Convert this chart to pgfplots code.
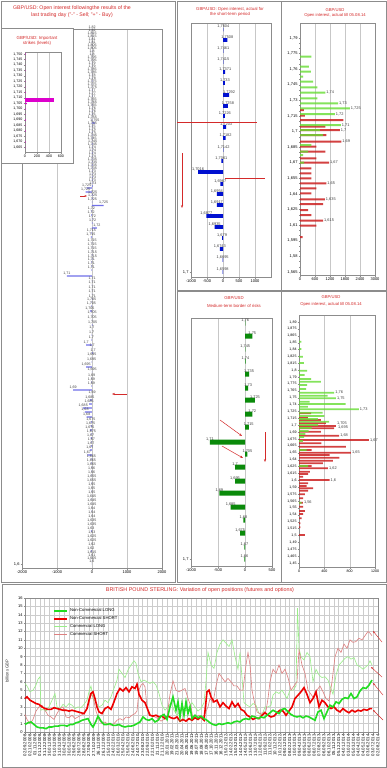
\documentclass[border=0pt]{standalone}
\usepackage{pgfplots}
\pgfplotsset{compat=1.18}
\usepackage{fontspec}
\setmainfont{Liberation Sans}
\usetikzlibrary{arrows.meta}
\definecolor{ttl}{HTML}{D42A2A}
\definecolor{pbar}{HTML}{7070E8}
\definecolor{bbar}{HTML}{0010D0}
\definecolor{gbar}{HTML}{0A8A0A}
\definecolor{lg}{HTML}{66DD33}
\definecolor{rd}{HTML}{CC2020}
\definecolor{mag}{HTML}{DD00CC}
\definecolor{ncl}{HTML}{22DD22}
\definecolor{ncs}{HTML}{EE0000}
\definecolor{cl}{HTML}{99EE88}
\definecolor{cs}{HTML}{DD8080}
\definecolor{frm}{HTML}{8C8C8C}
\newcommand\fs[1]{\fontsize{#1}{#1}\selectfont}
\pgfplotsset{P/.style={scale only axis, anchor=north west, clip=false,
  axis line style={black!45, line width=0.4pt}, tick style={black!45, line width=0.3pt},
  major tick length=1.5pt, minor tick length=1pt, tick align=outside, tick pos=left,
  ticklabel style={font=\fs{4}, inner sep=0.8pt},
  /pgf/number format/assume math mode=true, /pgf/number format/1000 sep={},
  xmajorgrids, major grid style={black!22, line width=0.3pt}},
  NN/.style={nodes near coords, nodes near coords align=horizontal, point meta=explicit symbolic,
  every node near coord/.append style={font=\fs{#1}, inner sep=1pt, text=black!75}}}
\begin{document}
\begin{tikzpicture}
\useasboundingbox (0,0) rectangle (387pt,-768pt);
\fill[white] (0,0) rectangle (387pt,-768pt);
% panel frames
\draw[frm, line width=0.7pt] (1pt,-1pt) rectangle (175pt,-582pt);
\draw[frm, line width=0.7pt] (177pt,-1pt) rectangle (281pt,-290pt);
\draw[frm, line width=0.7pt] (281pt,-1pt) rectangle (386pt,-290pt);
\draw[frm, line width=0.7pt] (177pt,-291pt) rectangle (281pt,-582pt);
\draw[frm, line width=0.7pt] (281pt,-291pt) rectangle (386pt,-582pt);
\draw[frm, line width=0.7pt] (2pt,-584pt) rectangle (386pt,-767pt);
% titles
\node[ttl, align=center, font=\fontsize{5.2}{7}\selectfont] at (72pt,-11.5pt) {GBP/USD: Open interest followingthe results of the\\last trading day ("-" - Sell; "+" - Buy)};
\node[ttl, align=center, font=\fontsize{4.3}{5}\selectfont] at (230pt,-12pt) {GBP/USD: Open interest, actual for\\the short-term period};
\node[ttl, align=center, font=\fontsize{4.2}{5}\selectfont] at (335pt,-12.5pt) {GBP/USD\\Open interest, actual till 05.08.14};
\node[ttl, align=center, font=\fontsize{4.3}{8}\selectfont] at (234pt,-302pt) {GBP/USD\\Medium-term border of risks};
\node[ttl, align=center, font=\fontsize{4.2}{7.5}\selectfont] at (331pt,-301pt) {GBP/USD\\Open interest, actual till 05.08.14};
\node[ttl, font=\fs{5.4}] at (200pt,-590pt) {BRITISH POUND STERLING: Variation of open positions (futures and options)};

% ---------- left main panel ----------
\begin{axis}[P, at={(22pt,-29pt)}, width=140pt, height=539pt, xmin=-2000, xmax=2000, ymin=-568, ymax=-29,
  xtick={-2000,-1000,0,1000,2000}, ytick={-564}, yticklabels={{1,6},{}}]
\addplot[xbar, bar width=1.3pt, fill=pbar, draw=none, NN=3.6] table[x=v, y expr=-\thisrow{y}, meta=l] {
y v l
30 4 1,82
33 2 1,82
36 3 1,815
39 2 1,815
42 4 1,81
45 3 1,81
48 2 1,805
51 5 1,805
54 3 1,8
57 6 1,8
60 4 1,795
63 3 1,795
66 5 1,79
69 4 1,79
72 6 1,785
75 3 1,785
78 5 1,78
81 8 1,78
84 4 1,775
87 6 1,775
90 10 1,775
93 5 1,77
96 8 1,77
99 4 1,77
102 6 1,765
105 10 1,765
108 5 1,765
111 8 1,76
114 12 1,76
117 6 1,76
120 10 1,755
123 80 1,755
126 8 1,755
129 6 1,75
132 12 1,75
135 8 1,75
138 10 1,745
141 6 1,745
144 15 1,745
147 8 1,745
150 10 1,74
153 20 1,74
156 12 1,74
159 8 1,74
162 10 1,735
165 15 1,735
168 8 1,735
171 12 1,735
174 10 1,73
177 20 1,73
180 15 1,73
183 10 1,73
186 25 1,73
188 -150 1,725
192 -180 1,725
195 15 1,725
198.5 20 1,725
202 10 1,725
205.5 330 1,725
211 -20 1,72
215 -25 1,72
219 10 1,72
223 15 1,72
228 140 1,72
233 -20 1,715
237 -30 1,715
243 5 1,715
247 5 1,715
251 5 1,715
255 10 1,715
259 10 1,715
262 -15 1,71
266 -20 1,71
270 -20 1,71
276 -720 1,71
281 5 1,71
285 5 1,71
290 5 1,71
294 5 1,71
299 10 1,71
302 -10 1,705
306 -15 1,705
311 -60 1,705
315 5 1,705
320 5 1,705
325 20 1,705
330 -5 1,7
335 -10 1,7
340 -15 1,7
345 -170 1,7
348 5 1,7
353 30 1,7
357 -5 1,695
362 -10 1,695
367 -170 1,695
372 5 1,695
378 -10 1,69
382 -15 1,69
386 -20 1,69
390 -540 1,69
395 5 1,69
400 -60 1,685
404 -80 1,685
408 -250 1,685
412 -200 1,68
417 -150 1,68
422 -30 1,675
426 -40 1,675
430 -60 1,675
434 -20 1,675
438 -40 1,67
442 -20 1,67
446 -30 1,67
450 -60 1,67
455 -130 1,67
459 -20 1,665
463 -15 1,665
467 -10 1,665
471 -10 1,66
475 -10 1,66
479 -5 1,655
483 -10 1,655
487 -5 1,65
491 -10 1,65
495 -5 1,65
499 -10 1,645
503 -5 1,645
507 -5 1,645
511 -10 1,64
515 -5 1,64
519 -5 1,64
523 -5 1,635
527 -5 1,635
531 -30 1,63
535 -5 1,63
539 -5 1,625
543 -5 1,625
547 -5 1,62
551 -30 1,62
555 -5 1,615
558 -5 1,61
561 -5 1,605
564 -5 1,6
};
\end{axis}
\draw[-{Stealth[length=2.5pt]}, ttl, line width=0.4pt] (80pt,-196pt) -- (87pt,-196pt);
\draw[-{Stealth[length=3pt]}, ttl, line width=0.5pt] (127pt,-394pt) -- (112pt,-394pt);

% ---------- inset ----------
\filldraw[fill=white, draw=frm, line width=0.6pt] (1pt,-28pt) rectangle (73pt,-163pt);
\node[ttl, align=center, font=\fontsize{4.4}{5.2}\selectfont] at (37pt,-40.5pt) {GBP/USD: Important\\strikes (levels)};
\begin{axis}[P, at={(25pt,-52pt)}, width=36pt, height=100pt, xmin=0, xmax=600, ymin=-152, ymax=-52,
  xtick={0,200,400,600}, ytick={-54,-59.48,...,-148},
  yticklabels={{1,750},{1,745},{1,740},{1,735},{1,730},{1,725},{1,720},{1,715},{1,710},{1,705},{1,700},{1,695},{1,690},{1,685},{1,680},{1,675},{1,670},{1,665}},
  ticklabel style={font=\fs{3.6}}]
\addplot[xbar, bar width=1.4pt, fill=mag, draw=none] table[x=v, y expr=-\thisrow{y}] {
y v
54 10
59.5 5
65 3
70.5 5
76 3
81.5 8
87 5
92.5 10
103.5 30
109 10
114.5 5
120 15
125.5 5
131 10
136.5 3
142 10
147.5 5
};
\addplot[xbar, bar width=4.5pt, fill=mag, draw=none] table[x=v, y expr=-\thisrow{y}] {
y v
100 480
};
\end{axis}

% ---------- middle top (blue) ----------
\begin{axis}[P, at={(191pt,-23pt)}, width=80pt, height=254pt, xmin=-1000, xmax=1500, ymin=-277, ymax=-23,
  xtick={-1000,-500,0,500,1000}, ytick={-272}, yticklabels={{1,7},{}}]
\addplot[xbar, bar width=3.6pt, fill=bbar, draw=none, NN=3.9] table[x=v, y expr=-\thisrow{y}, meta=l] {
y v l
29.5 10 1,7604
40 135 1,7508
51 10 1,7461
62 10 1,7415
72 70 1,7371
83 60 1,733
95 190 1,7292
106 155 1,7258
116 60 1,7226
127 100 1,7203
138 80 1,7182
150 15 1,7142
161 -50 1,7061
172 -780 1,7016
184 -85 1,6967
194 -190 1,6954
205 -190 1,6917
216 -520 1,6877
227 -260 1,6935
238 -30 1,679
249 -100 1,6743
260 -10 1,6695
272 -10 1,6598
};
\end{axis}
\draw[ttl, line width=0.5pt] (177pt,-122pt) -- (257pt,-122pt);
\draw[ttl, line width=0.5pt] (225pt,-178pt) -- (265pt,-178pt);
\draw[-{Stealth[length=3pt]}, ttl, line width=0.5pt] (182pt,-153pt) -- (182pt,-208pt);

% ---------- middle bottom (green) ----------
\begin{axis}[P, at={(191pt,-318pt)}, width=81pt, height=248pt, xmin=-1000, xmax=500, ymin=-566, ymax=-318,
  xtick={-1000,-500,0,500}, ytick={-559}, yticklabels={{1,7},{}}]
\addplot[xbar, bar width=5pt, fill=gbar, draw=none, NN=3.9] table[x=v, y expr=-\thisrow{y}, meta=l] {
y v l
323 5 1,76
336 135 1,75
349 5 1,745
361 10 1,74
374 75 1,735
388 60 1,73
400 185 1,725
414 135 1,72
427 70 1,715
442 -650 1,71
454 45 1,705
467 -185 1,7
481 -185 1,695
493 -475 1,69
507 -265 1,685
520 -30 1,68
533 -90 1,675
547 -10 1,67
559 -10 1,66
};
\end{axis}
\draw[-{Stealth[length=3pt]}, ttl, line width=0.5pt] (220pt,-420pt) -- (242pt,-436pt);
\draw[-{Stealth[length=3pt]}, ttl, line width=0.5pt] (222pt,-446pt) -- (243pt,-458pt);
\draw[-{Stealth[length=3pt]}, ttl, line width=0.5pt] (265pt,-432pt) -- (265pt,-462pt);

% ---------- right top ----------
\begin{axis}[P, at={(300pt,-23pt)}, width=75pt, height=252pt, xmin=0, xmax=3000, ymin=-275, ymax=-23,
  xtick={0,600,1200,1800,2400,3000}, ytick={-38,-53.6,...,-273}, minor y tick num=2,
  yticklabels={{1,79},{1,775},{1,76},{1,745},{1,73},{1,715},{1,7},{1,685},{1,67},{1,655},{1,64},{1,625},{1,61},{1,595},{1,58},{1,565}}]
\addplot[xbar, bar width=2pt, fill=rd, draw=none, fill opacity=0.85] table[x=v, y expr=-\thisrow{y}] {
y v
110 150
115.7 190
120 1730
126.7 1010
130 1590
135 1050
141.7 1650
146.7 650
151.7 1010
158.3 650
162.7 1160
168.3 450
173.3 450
178.3 450
183.3 1050
188.3 650
193.3 450
199.3 990
204 920
210 320
215 450
220.7 920
225.7 650
237 100
};
\addplot[xbar, bar width=2pt, fill=lg, draw=none, fill opacity=0.8] table[x=v, y expr=-\thisrow{y}] {
y v
56.7 450
66.7 350
71.7 430
76.7 120
81.7 520
87.3 690
92.7 1010
98.3 690
103.3 1520
108.3 1990
114 1390
125 1630
130 790
135 920
145 450
151.7 320
155 120
162.7 160
};
\begin{scope}[every node/.style={font=\fs{3.9}, anchor=west, inner sep=1pt, text=black!75}]
\node at (axis cs:1010,-92.7) {1,74};
\node at (axis cs:1520,-103.3) {1,73};
\node at (axis cs:1990,-108.3) {1,725};
\node at (axis cs:1390,-114) {1,72};
\node at (axis cs:1630,-125) {1,71};
\node at (axis cs:1590,-130.5) {1,7};
\node at (axis cs:1650,-141.7) {1,69};
\node at (axis cs:1160,-162.7) {1,67};
\node at (axis cs:1050,-183.3) {1,65};
\node at (axis cs:990,-199.3) {1,635};
\node at (axis cs:920,-220.7) {1,615};
\end{scope}
\end{axis}

% ---------- right bottom ----------
\begin{axis}[P, at={(299pt,-315pt)}, width=76pt, height=252pt, xmin=0, xmax=1200, ymin=-567, ymax=-315,
  xtick={0,400,800,1200}, ytick={-322,-328.886,...,-564},
  yticklabels={{1,89},{1,875},{1,865},{1,85},{1,84},{1,825},{1,815},{1,8},{1,79},{1,775},{1,765},{1,75},{1,74},{1,725},{1,715},{1,7},{1,69},{1,675},{1,665},{1,65},{1,64},{1,625},{1,615},{1,6},{1,59},{1,575},{1,565},{1,55},{1,54},{1,525},{1,515},{1,5},{1,49},{1,475},{1,465},{1,45}},
  ticklabel style={font=\fs{3.6}}]
\addplot[xbar, bar width=1.8pt, fill=rd, draw=none, fill opacity=0.85] table[x=v, y expr=-\thisrow{y}] {
y v
413.3 192
417.7 140
420 347
423.3 425
426 581
428.3 555
431.7 347
435.7 633
440 1105
443.3 353
446.7 742
450 200
452.7 820
455 482
457.7 638
460.7 534
463.3 378
466 200
468.3 456
471.7 171
474 145
476.7 67
480 482
483.3 145
486 120
488.3 223
490.7 145
494.3 93
498.3 67
502.7 60
506.7 67
511 93
514 67
518.3 41
523.3 20
527.3 20
535 93
};
\addplot[xbar, bar width=1.8pt, fill=lg, draw=none, fill opacity=0.8] table[x=v, y expr=-\thisrow{y}] {
y v
341.7 36
349 36
356.7 62
363 78
370.7 130
375 88
379 192
381.7 347
385 130
389 114
392.7 555
395.7 451
398.3 581
401.7 166
404 737
406.7 140
409.3 944
412.7 373
416 400
419 296
421.7 477
425 300
428 200
431 150
434 100
437 80
441 60
450 120
466 145
502.7 41
};
\begin{scope}[every node/.style={font=\fs{3.9}, anchor=west, inner sep=1pt, text=black!75}]
\node at (axis cs:555,-392.7) {1,76};
\node at (axis cs:581,-398.3) {1,75};
\node at (axis cs:944,-409.3) {1,73};
\node at (axis cs:581,-423.5) {1,705};
\node at (axis cs:600,-427.5) {1,695};
\node at (axis cs:633,-435.7) {1,68};
\node at (axis cs:1105,-440) {1,67};
\node at (axis cs:820,-452.7) {1,65};
\node at (axis cs:456,-468.3) {1,62};
\node at (axis cs:482,-480) {1,6};
\node at (axis cs:60,-502.7) {1,56};
\end{scope}
\end{axis}

% ---------- bottom time series ----------
\node[rotate=90, font=\fs{4.2}, text=black!80] at (7pt,-671pt) {billions GBP};
\begin{axis}[P, at={(25pt,-598pt)}, width=353pt, height=134pt, xmin=25, xmax=378, ymin=0, ymax=16,
  ytick={0,1,...,16}, ymajorgrids, major grid style={black!20, line width=0.3pt},
  xtick={25,29.9,...,378},
  xticklabels={02.09.2008,02.10.2008,01.11.2008,01.12.2008,31.12.2008,30.01.2009,01.03.2009,31.03.2009,30.04.2009,30.05.2009,29.06.2009,29.07.2009,28.08.2009,27.09.2009,27.10.2009,26.11.2009,26.12.2009,25.01.2010,24.02.2010,26.03.2010,25.04.2010,25.05.2010,24.06.2010,24.07.2010,23.08.2010,22.09.2010,22.10.2010,21.11.2010,21.12.2010,20.01.2011,19.02.2011,21.03.2011,20.04.2011,20.05.2011,19.06.2011,19.07.2011,18.08.2011,17.09.2011,17.10.2011,16.11.2011,16.12.2011,15.01.2012,14.02.2012,15.03.2012,14.04.2012,14.05.2012,13.06.2012,13.07.2012,12.08.2012,11.09.2012,11.10.2012,10.11.2012,10.12.2012,09.01.2013,08.02.2013,10.03.2013,09.04.2013,09.05.2013,08.06.2013,08.07.2013,07.08.2013,06.09.2013,06.10.2013,05.11.2013,05.12.2013,04.01.2014,03.02.2014,05.03.2014,04.04.2014,04.05.2014,03.06.2014,03.07.2014,02.08.2014},
  xticklabel style={rotate=90, anchor=east, font=\fs{4.3}},
  legend style={at={(axis description cs:0.08,0.935)}, anchor=north west, draw=none, fill=none, font=\fs{4.2}, inner sep=0pt, row sep=-0.8pt, cells={anchor=west}},
  legend image code/.code={\draw[#1] (0pt,0pt) -- (13pt,0pt);}]
\addlegendimage{ncl, line width=1.6pt}\addlegendentry{Non-Commercial LONG}
\addlegendimage{ncs, line width=1.6pt}\addlegendentry{Non-Commercial SHORT}
\addlegendimage{cl, line width=0.6pt}\addlegendentry{Commercial LONG}
\addlegendimage{cs, line width=0.6pt}\addlegendentry{Commercial SHORT}
% Commercial LONG
\addplot[cl, line width=0.6pt, forget plot] coordinates {
(25,5.8)(27,5.5)(30,4.8)(33,5.0)(36,5.6)(38,6.3)(40,6.6)(41,2.6)(43,2.7)(46,2.5)(49,3.0)(52,3.8)(55,4.6)(57,3.0)(60,2.8)(63,3.3)(66,3.0)(69,3.4)(72,3.2)(75,2.8)(78,3.0)(81,2.9)(84,3.3)(87,3.8)(89,4.8)(91,5.5)(93,4.0)(96,3.5)(99,3.0)(102,3.2)(105,3.8)(108,3.5)(111,4.2)(114,5.2)(117,6.2)(119,7.5)(122,7.0)(125,6.5)(128,7.4)(131,8.0)(134,8.5)(136,8.2)(138,7.0)(141,6.0)(144,6.2)(147,6.0)(150,5.8)(153,6.0)(156,5.6)(159,4.6)(162,3.2)(165,2.6)(168,3.0)(171,3.5)(174,2.6)(177,2.0)(180,2.5)(183,3.0)(186,2.5)(189,3.0)(192,3.5)(195,3.0)(198,2.5)(201,2.8)(204,3.5)(206,6.0)(208,9.5)(211,8.0)(214,7.6)(217,9.5)(220,10.5)(223,11.0)(226,10.6)(229,10.2)(232,11.0)(235,9.0)(238,7.5)(240,9.5)(242,6.5)(244,3.5)(247,3.2)(250,3.0)(253,3.4)(256,3.2)(259,2.2)(262,2.0)(265,3.0)(268,3.0)(271,3.2)(273,4.4)(276,4.8)(279,4.6)(282,5.0)(285,4.4)(287,4.0)(290,5.0)(293,5.0)(296,5.5)(297.5,14.8)(299,10.0)(301,9.0)(304,8.6)(307,9.5)(310,9.0)(313,6.0)(316,7.5)(319,6.8)(322,6.5)(325,6.6)(328,6.2)(330,5.5)(333,4.5)(336,6.8)(339,8.0)(342,8.4)(345,8.8)(348,9.0)(351,8.7)(354,8.9)(357,8.0)(360,7.8)(363,7.5)(366,7.8)(368,8.0)(370,8.5)(372,8.0)};
% Commercial SHORT
\addplot[cs, line width=0.6pt, forget plot] coordinates {
(25,2.1)(27,1.5)(30,1.0)(33,1.5)(36,2.5)(39,3.0)(42,3.2)(45,2.6)(48,2.0)(51,1.8)(54,1.5)(57,2.2)(60,2.8)(63,3.0)(66,1.8)(69,1.7)(72,2.0)(75,1.6)(78,1.8)(81,2.0)(84,2.2)(87,2.8)(89,3.5)(91,4.5)(93,4.2)(96,2.5)(99,1.5)(102,1.0)(105,1.2)(108,0.9)(111,0.8)(114,1.0)(117,1.4)(120,1.6)(123,1.4)(126,1.8)(129,1.7)(132,2.0)(135,2.2)(137,2.5)(139,5.0)(141,5.6)(143,5.8)(145,5.4)(147,3.0)(149,2.0)(152,1.9)(155,1.8)(158,1.6)(161,1.3)(164,1.5)(167,1.8)(170,4.5)(173,6.1)(176,5.0)(179,4.8)(182,5.0)(185,5.2)(188,4.0)(191,3.0)(193,1.6)(196,1.8)(199,2.0)(202,1.6)(205,2.2)(208,3.0)(210,4.0)(213,3.5)(216,5.5)(219,7.0)(222,6.5)(225,6.0)(228,6.4)(231,6.0)(234,5.5)(237,5.5)(240,5.0)(243,5.0)(246,8.0)(248,9.5)(250,8.0)(252,5.0)(254,3.8)(257,2.4)(260,2.2)(263,2.3)(266,2.5)(268,4.0)(270,6.0)(273,7.5)(276,7.0)(279,8.0)(282,7.0)(285,7.5)(288,6.5)(291,5.0)(294,5.5)(297,6.0)(299,9.8)(302,8.0)(305,7.0)(308,5.0)(311,4.5)(314,4.0)(317,5.0)(320,5.5)(323,4.8)(326,4.0)(329,3.7)(332,6.0)(335,9.0)(338,10.0)(341,9.5)(344,10.5)(347,10.0)(350,11.0)(353,10.7)(356,10.8)(359,11.2)(362,11.0)(365,11.5)(368,12.0)(370,11.8)(372,11.5)};
% Non-Commercial SHORT
\addplot[ncs, line width=1.6pt, forget plot] coordinates {
(25,4.0)(27,4.2)(30,3.8)(33,3.6)(36,3.4)(39,3.3)(42,3.0)(45,2.8)(48,2.7)(51,2.7)(54,2.9)(57,2.8)(60,2.7)(63,2.6)(66,2.6)(69,2.5)(72,2.6)(75,2.5)(78,2.4)(81,2.3)(84,2.2)(87,2.8)(89,3.8)(91,4.6)(93,4.8)(95,4.0)(97,3.0)(99,2.4)(102,2.2)(105,2.8)(108,3.0)(111,2.7)(114,3.6)(117,4.6)(120,5.2)(123,4.9)(126,5.3)(129,4.8)(132,5.4)(135,5.2)(137,5.7)(139,4.5)(142,3.8)(145,3.5)(148,2.6)(150,2.0)(153,1.9)(156,2.0)(159,1.8)(162,1.9)(165,1.6)(168,1.9)(171,1.7)(174,1.6)(177,1.8)(180,1.3)(183,1.5)(186,1.3)(189,1.6)(192,1.4)(195,1.7)(198,1.5)(201,1.8)(204,1.4)(207,4.8)(209,5.0)(211,4.2)(214,3.6)(217,3.8)(220,3.0)(223,3.5)(226,3.1)(229,2.8)(232,3.6)(235,3.0)(238,3.4)(241,2.7)(244,2.5)(247,2.0)(250,1.8)(253,1.5)(256,1.7)(259,1.6)(262,2.0)(265,2.3)(268,2.0)(271,1.8)(274,1.9)(277,2.3)(280,2.6)(283,2.5)(286,2.0)(289,2.5)(292,3.0)(295,4.0)(298,4.4)(301,4.8)(304,5.3)(307,4.5)(310,3.5)(313,4.0)(316,4.8)(319,3.0)(322,3.8)(325,3.5)(328,3.0)(331,2.8)(334,3.0)(337,2.6)(340,2.4)(343,2.8)(346,2.5)(349,2.3)(352,2.6)(355,2.4)(358,2.6)(361,2.5)(364,2.7)(367,2.6)(370,2.8)(372,2.8)};
% Non-Commercial LONG
\addplot[ncl, line width=1.6pt, forget plot] coordinates {
(25,0.9)(28,1.1)(31,1.2)(34,0.9)(37,0.6)(40,0.5)(43,0.5)(46,0.4)(49,0.6)(52,0.6)(55,0.7)(58,0.7)(61,0.8)(64,0.8)(67,0.7)(70,0.9)(73,0.9)(76,1.1)(79,1.2)(82,1.4)(85,1.5)(88,1.6)(91,0.9)(93,0.6)(96,1.3)(98,1.9)(101,1.3)(104,0.9)(107,0.9)(110,1.0)(113,0.8)(116,0.8)(119,0.9)(122,0.7)(125,0.6)(128,0.7)(131,0.7)(134,0.8)(137,1.0)(140,1.2)(143,1.8)(146,1.5)(149,1.4)(152,1.6)(155,1.2)(158,1.4)(161,1.9)(164,2.1)(167,1.5)(170,3.0)(173,4.2)(176,2.6)(178,3.6)(180,1.8)(182,3.4)(184,2.0)(186,3.6)(188,2.2)(190,3.0)(192,1.6)(195,2.0)(198,1.7)(201,1.9)(204,1.6)(207,1.4)(210,1.1)(213,0.9)(216,0.8)(219,1.0)(222,0.9)(225,1.0)(228,1.1)(231,1.0)(234,1.2)(237,1.3)(240,1.2)(243,1.5)(246,1.6)(249,1.5)(252,1.9)(255,1.8)(258,1.6)(261,1.8)(264,1.7)(267,2.0)(270,2.3)(273,2.6)(276,2.4)(279,2.2)(282,2.7)(285,2.8)(288,2.4)(291,2.1)(294,1.9)(297,1.8)(300,1.9)(303,1.7)(306,1.9)(309,1.8)(312,1.6)(315,1.4)(318,2.4)(321,2.6)(324,1.6)(327,2.4)(330,3.2)(333,3.0)(336,3.6)(339,3.4)(342,3.9)(345,4.1)(348,4.0)(351,4.6)(354,4.0)(357,4.2)(360,4.9)(363,5.3)(366,5.2)(369,5.6)(372,6.2)};
\end{axis}
\draw[-{Stealth[length=2.5pt]}, ttl, line width=0.4pt] (382pt,-642pt) -- (373pt,-631pt);
\draw[-{Stealth[length=2.5pt]}, ttl, line width=0.4pt] (382pt,-677pt) -- (371pt,-667pt);
\draw[-{Stealth[length=2.5pt]}, ttl, line width=0.4pt] (383pt,-695pt) -- (373pt,-683pt);
\draw[-{Stealth[length=2.5pt]}, ttl, line width=0.4pt] (383pt,-720pt) -- (373pt,-710pt);
\end{tikzpicture}
\end{document}
